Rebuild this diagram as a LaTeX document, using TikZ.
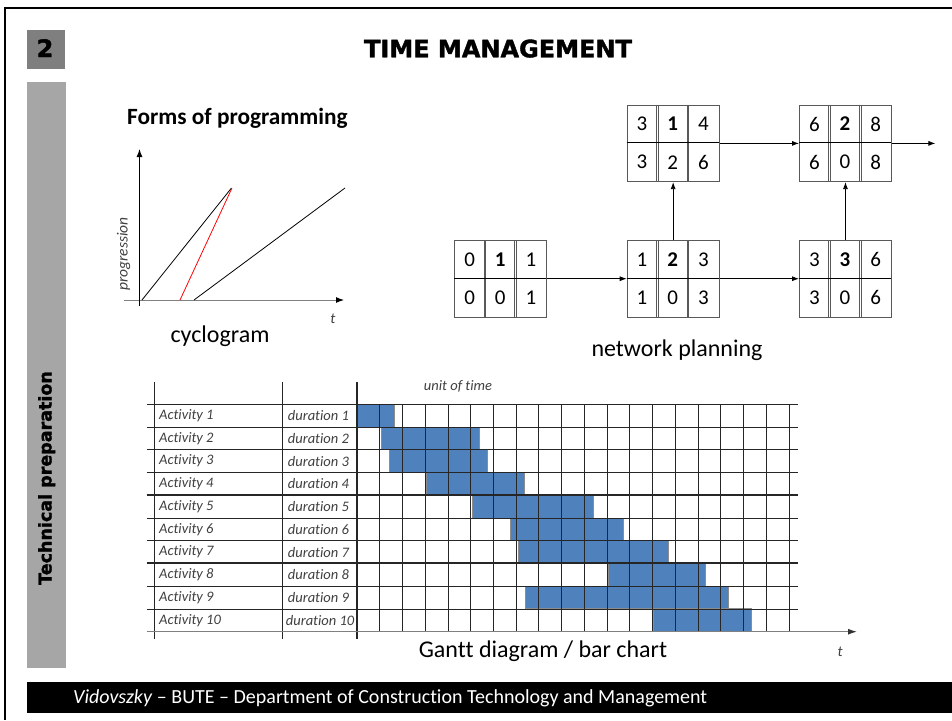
\documentclass[tikz,border=0pt]{standalone}
\usepackage{fontspec}
\setmainfont{Carlito}[Ligatures=NoCommon]
\newfontfamily\heavyfont[FakeBold=1.6]{DejaVu Sans Bold}
\usetikzlibrary{arrows.meta}
\definecolor{sidegray}{HTML}{A6A6A6}
\definecolor{numgray}{HTML}{7F7F7F}
\definecolor{barblue}{HTML}{4F81BD}
\definecolor{txtgray}{HTML}{404040}
\definecolor{boxline}{HTML}{595959}
\definecolor{bargray}{HTML}{8C8C8C}
\definecolor{axisgray}{HTML}{808080}
\newcommand\netbox[9]{%
  \node[netbox, anchor=north west] (#1) at (#2,#3) {};
  \draw[netline] ({#2+30.67-0.8},#3) -- ++(0,76.5) ({#2+30.67+0.8},#3) -- ++(0,76.5)
       ({#2+61.33-0.8},#3) -- ++(0,76.5) ({#2+61.33+0.8},#3) -- ++(0,76.5);
  \draw[line width=1pt] (#2,{#3+38}) -- ++(92,0);
  \node[dig] (#1-a) at ({#2+15.33},{#3+19.3}) {#4};
  \node[dig,font=\fontsize{21}{24}\selectfont\bfseries] (#1-b) at ({#2+46},{#3+19.3}) {#5};
  \node[dig] (#1-c) at ({#2+76.67},{#3+19.3}) {#6};
  \node[dig] (#1-d) at ({#2+15.33},{#3+57.5}) {#7};
  \node[dig] (#1-e) at ({#2+46},{#3+57.5}) {#8};
  \node[dig] (#1-f) at ({#2+76.67},{#3+57.5}) {#9};
}
\begin{document}
\begin{tikzpicture}[x=1pt,y=-1pt,
  netbox/.style={draw=boxline, line width=0.9pt, minimum width=92pt, minimum height=76.5pt, inner sep=0},
  netline/.style={draw=boxline, line width=0.8pt},
  dig/.style={inner sep=0, font=\fontsize{21}{24}\selectfont},
  arr/.style={line width=0.8pt, -{Latex[length=7pt,width=5pt]}},
  grid/.style={line width=0.9pt, draw=black!85},
  thickgrid/.style={line width=2pt, draw=black!85},
  gl/.style={inner sep=0, text=txtgray, font=\fontsize{14.5}{16}\selectfont\itshape},
  big/.style={inner sep=0, font=\fontsize{24}{28}\selectfont},
]
\useasboundingbox (0,0) rectangle (952,720);
\fill[white] (0,0) rectangle (952,720);
% frame
\draw[line width=2pt] (5,720) -- (5,8) -- (952,8);
% header
\fill[numgray] (27,30) rectangle (65,69);
\node[inner sep=0, anchor=base, font=\heavyfont\fontsize{24}{28}\selectfont] (num) at (45,57) {2};
\node[inner sep=0, anchor=base, font=\heavyfont\fontsize{24}{28}\selectfont] (title) at (498,57.3) {TIME MANAGEMENT};
% side bar
\fill[sidegray] (27,82) rectangle (66,667.7);
\node[inner sep=0, anchor=base, rotate=90, font=\heavyfont\fontsize{17.5}{20}\selectfont] (side) at (51.5,478) {Technical preparation};
% footer
\fill[black] (27,681.7) rectangle (952,712.7);
\node[inner sep=0, anchor=base west, text=white, font=\fontsize{20}{22}\selectfont] (foot) at (73,703.3) {\textit{Vidovszky} – BUTE – Department of Construction Technology and Management};

% cyclogram
\node[inner sep=0, anchor=base west, font=\fontsize{23.3}{26}\selectfont\bfseries] (forms) at (127,124) {Forms of programming};
\draw[axisgray, line width=1pt, -{Latex[length=8pt,width=6pt,color=black]}] (124,300) -- (344,300);
\draw[line width=1pt, -{Latex[length=8pt,width=6pt]}] (139.5,306) -- (139.5,149);
\draw[line width=0.8pt] (142,300) -- (231.5,188);
\draw[red, line width=0.8pt] (180,300) -- (232,188);
\draw[line width=0.8pt] (194,300) -- (345,188);
\node[inner sep=0, anchor=base, rotate=90, font=\fontsize{15.5}{18}\selectfont\itshape, text=txtgray] (prog) at (127.5,254) {progression};
\node[inner sep=0, anchor=base, font=\fontsize{15}{18}\selectfont\itshape, text=txtgray] (tc) at (333,323) {t};
\node[big, anchor=base] (cyc) at (220,342) {cyclogram};

% network
\netbox{A}{454.3}{240}{0}{1}{1}{0}{0}{1}
\netbox{B}{626.7}{240}{1}{2}{3}{1}{0}{3}
\netbox{C}{799}{240}{3}{3}{6}{3}{0}{6}
\netbox{T1}{626.7}{104.7}{3}{1}{4}{3}{2}{6}
\netbox{T2}{799}{104.7}{6}{2}{8}{6}{0}{8}
\path (T2.east) ++(43.5,0) coordinate (out);
\draw[arr] (A.east) -- (B.west);
\draw[arr] (B.east) -- (C.west);
\draw[arr] (T1.east) -- (T2.west);
\draw[arr] (T2.east) -- (out);
\draw[arr] (B.north) -- (T1.south);
\draw[arr] (C.north) -- (T2.south);
\node[big, anchor=base] (netlbl) at (677,356) {network planning};

% gantt bars
\foreach \i/\s/\e in {1/0/1.63, 2/1.07/5.38, 3/1.41/5.73, 4/3.06/7.36, 5/5.07/10.38, 6/6.73/11.7, 7/7.09/13.69, 8/11.05/15.33, 9/7.39/16.34, 10/13.03/17.34}{
  \filldraw[fill=barblue, draw=bargray, line width=1pt] ({357+\s*22.74},{404.3+(\i-1)*22.74}) rectangle ({357+\e*22.74},{404.3+\i*22.74});
}
% grid
\foreach \k in {1,...,19}{
  \draw[grid] ({357+\k*22.74},404.3) -- ({357+\k*22.74},631.7);
}
\foreach \j in {0,1,2,3,5,6,8,9}{
  \draw[grid] (146.7,{404.3+\j*22.74}) -- (797.7,{404.3+\j*22.74});
}
\foreach \j in {4,7}{
  \draw[thickgrid] (146.7,{404.3+\j*22.74}) -- (797.7,{404.3+\j*22.74});
}
\draw[grid] (154.3,382) -- (154.3,639);
\draw[grid] (282.7,382) -- (282.7,639);
\draw[thickgrid] (357,382) -- (357,639);
\draw[axisgray, line width=1.2pt, -{Latex[length=9pt,width=6pt,color=black!80]}] (146.7,631.7) -- (857,631.7);
% gantt labels
\foreach \i in {1,...,10}{
  \node[gl, anchor=west] (act\i) at (159,{404.3+(\i-0.5)*22.74}) {Activity \i};
}
\foreach \i in {1,...,9}{
  \node[gl, anchor=west] (dur\i) at (287.7,{404.3+(\i-0.5)*22.74}) {duration \i};
}
\node[gl, anchor=west] (dur10) at (285.7,{404.3+9.5*22.74}) {duration 10};
\node[gl, anchor=base] (unit) at (458,390) {unit of time};
\node[big, anchor=base] (gantt) at (543,657.3) {Gantt diagram / bar chart};
\node[inner sep=0, anchor=base, font=\fontsize{15}{18}\selectfont\itshape, text=txtgray] (tg) at (840,656.7) {t};
\end{tikzpicture}
\end{document}
